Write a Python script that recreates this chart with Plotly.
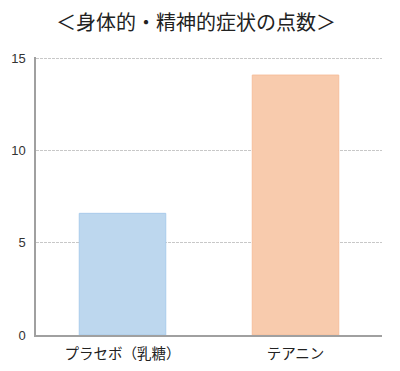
import plotly.graph_objects as go

categories = ["プラセボ（乳糖）", "テアニン"]
values = [6.6, 14.1]
colors = ["#bdd7ee", "#f8cbad"]
line_colors = ["#a9cbeb", "#f6bf9c"]
tick_vals = [0, 5, 10, 15]

fig = go.Figure(go.Bar(
    x=categories, y=values,
    marker=dict(color=colors, line=dict(color=line_colors, width=1)),
    width=0.5,
))
fig.update_layout(
    width=400, height=371,
    margin=dict(l=28, r=26, t=49, b=44, autoexpand=False),
    paper_bgcolor="white", plot_bgcolor="white",
    font=dict(family="Noto Sans CJK JP", size=12, color="#222"),
    title=dict(text="＜身体的・精神的症状の点数＞", x=188/400, xanchor="center",
               y=1 - 15/371, yanchor="middle", font=dict(size=20, color="#222")),
    showlegend=False,
)
fig.update_yaxes(range=[0, 15.08], tickvals=tick_vals, showgrid=True,
                 gridcolor="#c8c8c8", griddash="3px,1px", gridwidth=1,
                 showline=True, linecolor="#a0a0a0", linewidth=1.5,
                 ticks="", ticklen=0, zeroline=False, automargin=False,
                 ticklabelstandoff=6,
                 tickfont=dict(family="Liberation Sans", size=13, color="#333"))
fig.update_xaxes(showline=True, linecolor="#a0a0a0", linewidth=1.5, ticks="",
                 automargin=False, ticklabelstandoff=5,
                 tickfont=dict(size=14.5, color="#222"))
fig.write_html("out.html")
